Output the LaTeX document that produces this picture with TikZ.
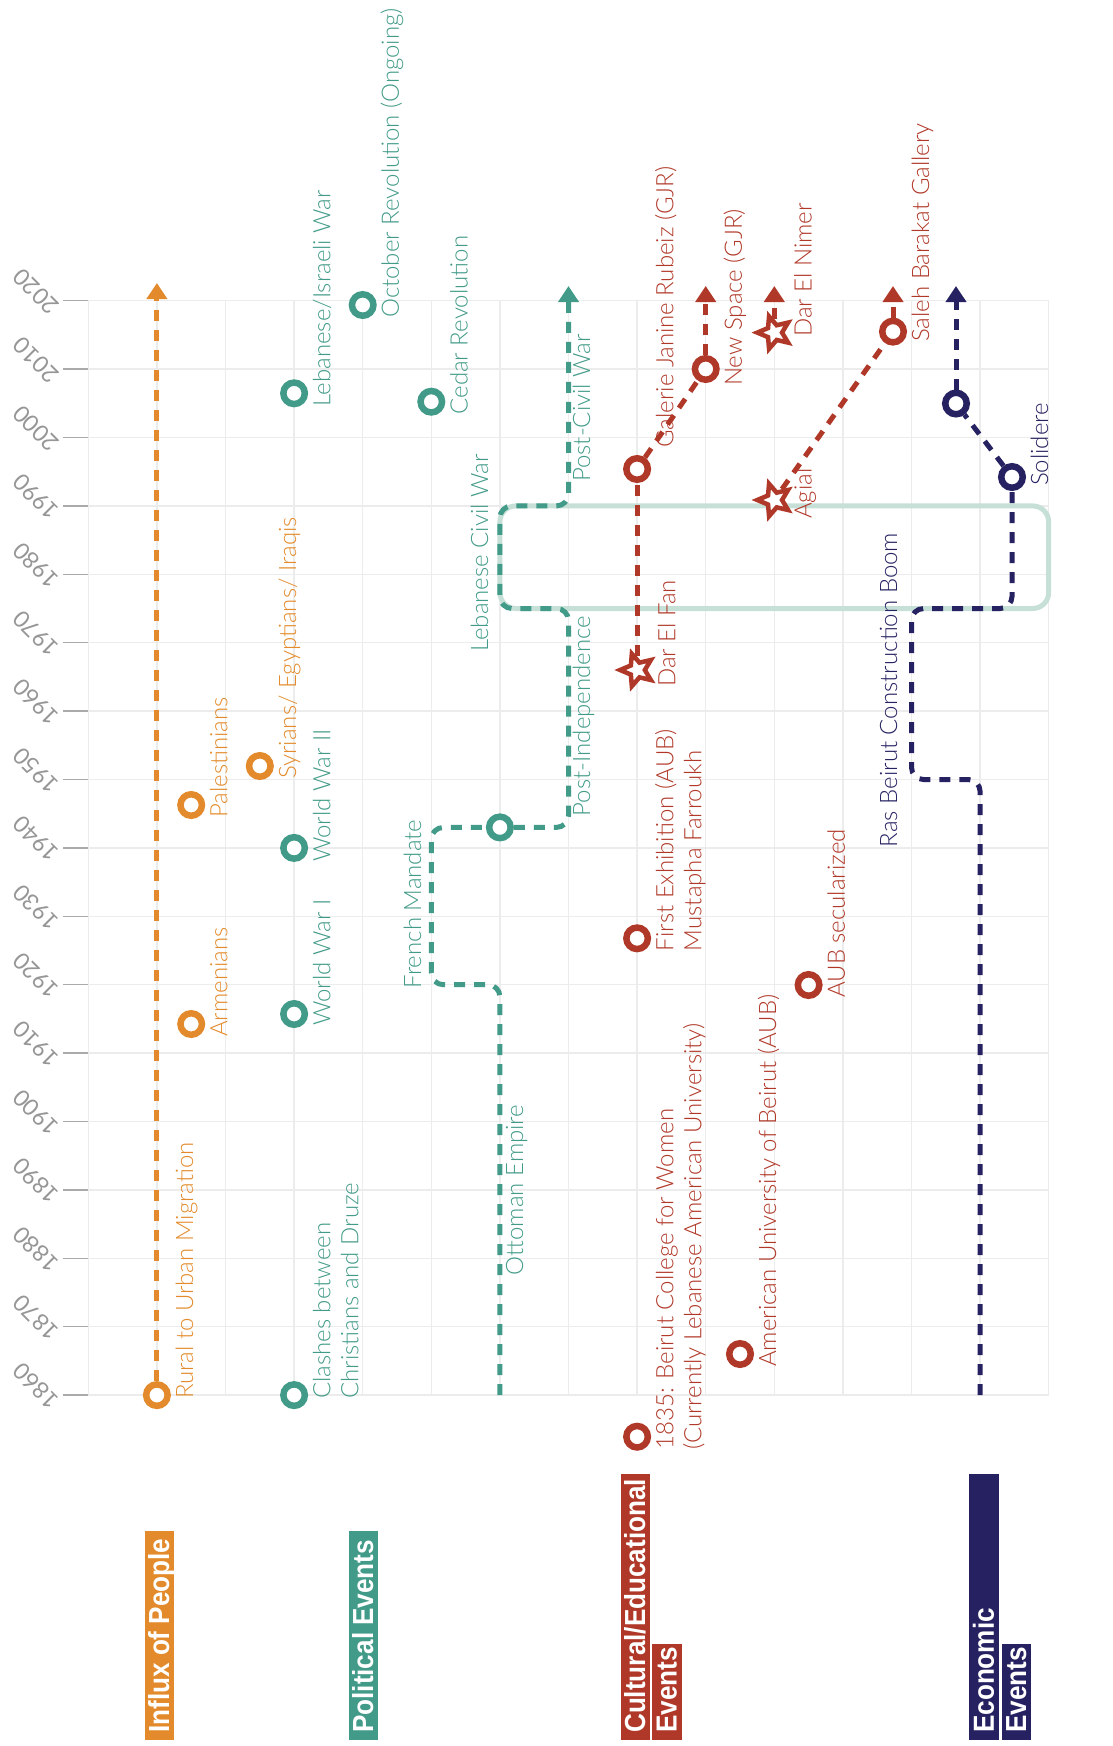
\documentclass[tikz,border=0pt]{standalone}
\usepackage{fontspec}
\setmainfont{Lato}[UprightFont={* Light},BoldFont={* Bold}]
\newfontfamily\latoreg{Lato}
\newfontfamily\catfam{Liberation Sans}[FakeStretch=0.9]
\usetikzlibrary{shapes.geometric,arrows.meta}
\definecolor{cOr}{RGB}{227,139,44}
\definecolor{cTe}{RGB}{66,155,136}
\definecolor{cRe}{RGB}{176,56,40}
\definecolor{cNa}{RGB}{38,34,98}
\definecolor{cRect}{RGB}{198,224,215}
\definecolor{cGrid}{RGB}{236,236,236}
\definecolor{cTick}{RGB}{170,170,170}
\definecolor{cYear}{RGB}{150,150,150}
\newcommand\evfont{\fontsize{24}{28}\selectfont}
\newcommand\yrfont{\latoreg\fontsize{23}{23}\selectfont}
\newcommand\catfont{\catfam\bfseries\fontsize{29}{29}\selectfont}
\newcommand\hs{\rule{0pt}{21pt}}
\tikzset{
  declare function={gx(\k)=88.3+68.6*\k; gy(\t)=300.7+(2020-\t)*6.84;},
  dsh/.style={line width=5pt, dash pattern=on 11pt off 9pt},
  arr/.style={-{Triangle[length=16pt,width=20pt]}},
  ring/.style={circle, draw, fill=white, line width=6.5pt, minimum size=21.5pt, inner sep=0pt},
  starm/.style={star, star points=5, star point ratio=2.2, draw, fill=white, line width=4.5pt, minimum size=34pt, inner sep=0pt, shape border rotate=90},
  evl/.style={rotate=90, anchor=north west, inner sep=0pt, align=left, font=\evfont},
  segl/.style={rotate=90, anchor=base, inner sep=0pt, font=\evfont},
  yl/.style={rotate=135, inner sep=0pt, font=\yrfont, text=cYear},
  cat/.style={rotate=90, anchor=south west, inner xsep=7pt, inner ysep=0pt, text height=24.5pt, text depth=5pt, text=white, font=\catfont},
}
\begin{document}
\begin{tikzpicture}[x=1pt,y=-1pt]
\useasboundingbox (0,0) rectangle (1112,1746);
% grid
\foreach \k in {0,...,14} \draw[cGrid, line width=1.3pt] ({gx(\k)},{gy(2020)}) -- ({gx(\k)},{gy(1860)});
\foreach \yr in {1860,1870,...,2020} {
  \draw[cGrid, line width=1.3pt] ({gx(0)},{gy(\yr)}) -- ({gx(14)},{gy(\yr)});
  \draw[cTick, line width=1.5pt] (63,{gy(\yr)}) -- ({gx(0)},{gy(\yr)});
  \node[yl] (yr\yr) at (36,{gy(\yr)-9}) {\yr};
}
% civil war frame
\draw[cRect, line width=5pt, rounded corners=16pt] ({gx(6)},{gy(1990)}) rectangle ({gx(14)},{gy(1975)});

% ---- Influx of People
\node[ring, draw=cOr] (rural) at ({gx(1)},{gy(1860)}) {};
\node[ring, draw=cOr] (armen) at ({gx(1.5)},1024) {};
\node[ring, draw=cOr] (pales) at ({gx(1.5)},805) {};
\node[ring, draw=cOr] (syr) at ({gx(2.5)},766) {};
\coordinate (orTop) at ({gx(1)},283);
\draw[dsh, arr, cOr] (rural) -- (orTop);
\node[evl, text=cOr] (lrural) at ({gx(1)+15},{gy(1860)+4}) {\hs Rural to Urban Migration};
\node[evl, text=cOr] (larmen) at ({gx(1.5)+15},1037) {\hs Armenians};
\node[evl, text=cOr] (lpales) at ({gx(1.5)+15},818) {\hs Palestinians};
\node[evl, text=cOr] (lsyr) at ({gx(2.5)+15},779) {\hs Syrians/ Egyptians/ Iraqis};

% ---- Political Events
\node[ring, draw=cTe] (clash) at ({gx(3)},{gy(1860)}) {};
\node[ring, draw=cTe] (ww1) at ({gx(3)},1014) {};
\node[ring, draw=cTe] (ww2) at ({gx(3)},{gy(1940)}) {};
\node[ring, draw=cTe] (lebisr) at ({gx(3)},393.3) {};
\node[ring, draw=cTe] (octrev) at ({gx(4)},305) {};
\node[ring, draw=cTe] (cedar) at ({gx(5)},401.7) {};
\node[evl, text=cTe] (lclash) at ({gx(3)+15},{gy(1860)+4}) {\hs Clashes between\\Christians and Druze};
\node[evl, text=cTe] (lww1) at ({gx(3)+15},1026) {\hs World War I};
\node[evl, text=cTe] (lww2) at ({gx(3)+15},{gy(1940)+14}) {\hs World War II};
\node[evl, text=cTe] (llebisr) at ({gx(3)+15},406.3) {\hs Lebanese/Israeli War};
\node[evl, text=cTe] (loct) at ({gx(4)+15},318) {\hs October Revolution (Ongoing)};
\node[evl, text=cTe] (lcedar) at ({gx(5)+15},414.7) {\hs Cedar Revolution};

% political eras path
\coordinate (ottS) at ({gx(6)},{gy(1860)});
\node[ring, draw=cTe] (indep) at ({gx(6)},{gy(1943)}) {};
\coordinate (pcwTop) at ({gx(7)},286);
\draw[dsh, cTe, rounded corners=12pt] (ottS) -- ({gx(6)},{gy(1920)}) -- ({gx(5)},{gy(1920)}) -- ({gx(5)},{gy(1943)}) -- (indep);
\draw[dsh, cTe, arr, rounded corners=12pt] (indep) -- ({gx(7)},{gy(1943)}) -- ({gx(7)},{gy(1975)}) -- ({gx(6)},{gy(1975)}) -- ({gx(6)},{gy(1990)}) -- ({gx(7)},{gy(1990)}) -- (pcwTop);
\node[segl, text=cTe] (lott) at (523,1190) {Ottoman Empire};
\node[segl, text=cTe] (lfre) at (421,904) {French Mandate};
\node[segl, text=cTe] (lpind) at (590,716) {Post-Independence};
\node[segl, text=cTe] (lciv) at (488,553) {Lebanese Civil War};
\node[segl, text=cTe] (lpcw) at (590,408) {Post-Civil War};

% ---- Cultural / Educational
\node[ring, draw=cRe] (bcw) at ({gx(8)},1436.7) {};
\node[ring, draw=cRe] (aub) at ({gx(9.5)},1354) {};
\node[ring, draw=cRe] (firstex) at ({gx(8)},938.3) {};
\node[ring, draw=cRe] (aubsec) at ({gx(10.5)},985) {};
\node[starm, draw=cRe] (darfan) at ({gx(8)},670) {};
\node[ring, draw=cRe] (gjr) at ({gx(8)},469) {};
\node[ring, draw=cRe] (newsp) at ({gx(9)},369) {};
\node[starm, draw=cRe] (nimer) at ({gx(10)},332.6) {};
\node[starm, draw=cRe] (agial) at ({gx(10)},500) {};
\node[ring, draw=cRe] (saleh) at (893,331.6) {};
\coordinate (nsTop) at ({gx(9)},286);
\coordinate (nimTop) at ({gx(10)},286);
\coordinate (salTop) at (893,286);
\draw[dsh, cRe] (darfan) -- (gjr);
\draw[dsh, cRe] (gjr) -- (newsp);
\draw[dsh, cRe, arr] (newsp) -- (nsTop);
\draw[dsh, cRe, arr] (nimer) -- (nimTop);
\draw[dsh, cRe] (agial) -- (saleh);
\draw[dsh, cRe, arr] (saleh) -- (salTop);
\node[evl, text=cRe] (lbcw) at ({gx(8)+15},1449.7) {\hs 1835: Beirut College for Women\\(Currently Lebanese American University)};
\node[evl, text=cRe] (laub) at ({gx(9.5)+15},1367) {\hs American University of Beirut (AUB)};
\node[evl, text=cRe] (lfirst) at ({gx(8)+15},951.3) {\hs First Exhibition (AUB)\\Mustapha Farroukh};
\node[evl, text=cRe] (laubsec) at ({gx(10.5)+15},998) {\hs AUB secularized};
\node[evl, text=cRe] (ldarfan) at ({gx(8)+17},687) {\hs Dar El Fan};
\node[evl, text=cRe] (lgjr) at ({gx(8)+15},448) {\hs Galerie Janine Rubeiz (GJR)};
\node[evl, text=cRe] (lnewsp) at ({gx(9)+15},386) {\hs New Space (GJR)};
\node[evl, text=cRe] (lnimer) at ({gx(10)+16},337) {\hs Dar El Nimer};
\node[evl, text=cRe] (lagial) at ({gx(10)+16},519) {\hs Agial};
\node[evl, text=cRe] (lsaleh) at (908,342) {\hs Saleh Barakat Gallery};

% ---- Economic
\coordinate (ecoS) at ({gx(13)},{gy(1860)});
\node[ring, draw=cNa] (solid) at (1012,477) {};
\node[ring, draw=cNa] (eco05) at (956,403.5) {};
\coordinate (ecoTop) at (956,286);
\draw[dsh, cNa, rounded corners=12pt] (ecoS) -- ({gx(13)},{gy(1950)}) -- ({gx(12)},{gy(1950)}) -- ({gx(12)},{gy(1975)}) -- (1012,{gy(1975)}) -- (solid);
\draw[dsh, cNa] (solid) -- (eco05);
\draw[dsh, cNa, arr] (eco05) -- (ecoTop);
\node[segl, text=cNa] (lras) at (897,690) {Ras Beirut Construction Boom};
\node[evl, text=cNa] (lsolid) at (1027,486) {\hs Solidere};

% ---- category boxes
\node[cat, fill=cOr] (cInflux) at (174.3,1740) {\makebox[195pt][l]{Influx of People}};
\node[cat, fill=cTe] (cPol) at (378.3,1740) {\makebox[195pt][l]{Political Events}};
\node[cat, fill=cRe] (cCult) at (650.2,1740) {\makebox[252pt][l]{Cultural/Educational}};
\node[cat, fill=cRe] (cCultB) at (681.8,1740) {\makebox[82pt][l]{Events}};
\node[cat, fill=cNa] (cEco) at (999,1740) {\makebox[252pt][l]{Economic}};
\node[cat, fill=cNa] (cEcoB) at (1031.3,1740) {\makebox[82pt][l]{Events}};
\end{tikzpicture}
\end{document}
